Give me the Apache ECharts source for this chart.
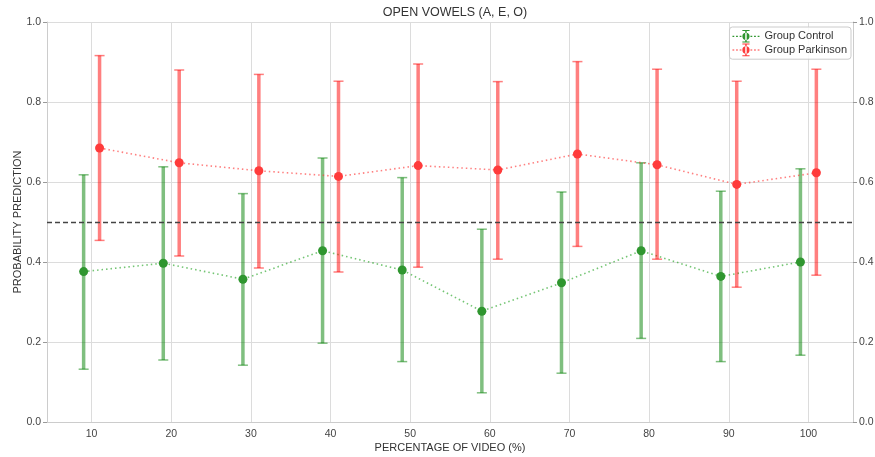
<!DOCTYPE html>
<html>
<head>
<meta charset="utf-8">
<script src="https://cdn.jsdelivr.net/npm/echarts@6/dist/echarts.min.js"></script>
<style>
  html, body { margin: 0; padding: 0; background: #fff; }
  #chart { width: 875px; height: 457px; }
</style>
</head>
<body>
<div id="chart"></div>
<script>
// Percentage of video at which the prediction is taken
const percentages = [10, 20, 30, 40, 50, 60, 70, 80, 90, 100];
const xTickLabels = [10, 20, 30, 40, 50, 60, 70, 80, 90, 100];
const yTickLabels = [0.0, 0.2, 0.4, 0.6, 0.8, 1.0];

// Group Control: mean prediction and error-bar bounds
const controlMean = [0.376, 0.397, 0.357, 0.428, 0.380, 0.277, 0.348, 0.428, 0.364, 0.400];
const controlLow  = [0.132, 0.155, 0.142, 0.197, 0.151, 0.073, 0.122, 0.209, 0.151, 0.167];
const controlHigh = [0.618, 0.638, 0.571, 0.660, 0.611, 0.482, 0.575, 0.648, 0.577, 0.633];

// Group Parkinson: mean prediction and error-bar bounds
const parkinsonMean = [0.685, 0.648, 0.628, 0.614, 0.641, 0.630, 0.670, 0.643, 0.594, 0.623];
const parkinsonLow  = [0.454, 0.415, 0.385, 0.375, 0.387, 0.407, 0.439, 0.407, 0.337, 0.367];
const parkinsonHigh = [0.916, 0.880, 0.869, 0.852, 0.895, 0.851, 0.901, 0.882, 0.852, 0.882];

// Decision threshold
const threshold = 0.5;

const chart = echarts.init(document.getElementById('chart'), null, { renderer: 'canvas' });

const GREEN = '#2f962f';
const GREEN_BAR = 'rgba(0,128,0,0.5)';
const RED = '#ff3b3b';
const RED_BAR = 'rgba(255,0,0,0.5)';
const GRID_COLOR = '#dcdcdc';
const FONT = 'Liberation Sans, Arial, sans-serif';

// Legend glyph: dotted line, error bar with caps and a round marker
const legendIcon = 'path://' +
  'M0 6.5h2v1.2h-2z M4 6.5h2v1.2h-2z M8 6.5h2v1.2h-2z M20 6.5h2v1.2h-2z M24 6.5h2v1.2h-2z M28 6.5h2v1.2h-2z ' +
  'M14.2 0h1.6v14h-1.6z M11 0h8v1.1h-8z M11 12.9h8v1.1h-8z ' +
  'M11 7a4 4 0 1 0 8 0a4 4 0 1 0 -8 0z';

function errorBarSeries(name, offset, low, high, color, z) {
  return {
    name: name,
    type: 'custom',
    z: z,
    silent: true,
    data: percentages.map((p, i) => [p + offset, low[i], high[i]]),
    encode: { x: 0, y: [1, 2] },
    renderItem: function (params, api) {
      const x = api.value(0);
      const top = api.coord([x, api.value(2)]);
      const bot = api.coord([x, api.value(1)]);
      const cap = 5;
      return {
        type: 'group',
        children: [
          { type: 'line', shape: { x1: top[0], y1: top[1], x2: bot[0], y2: bot[1] },
            style: { stroke: color, lineWidth: 3.5 } },
          { type: 'line', shape: { x1: top[0] - cap, y1: top[1], x2: top[0] + cap, y2: top[1] },
            style: { stroke: color, lineWidth: 1.5 } },
          { type: 'line', shape: { x1: bot[0] - cap, y1: bot[1], x2: bot[0] + cap, y2: bot[1] },
            style: { stroke: color, lineWidth: 1.5 } }
        ]
      };
    }
  };
}

function meanSeries(name, offset, mean, color, lineColor, z, extra) {
  return Object.assign({
    name: name,
    type: 'line',
    z: z,
    data: percentages.map((p, i) => [p + offset, mean[i]]),
    symbol: 'circle',
    symbolSize: 9,
    itemStyle: { color: color, borderWidth: 0 },
    lineStyle: { color: lineColor, width: 1.6, type: [1.5, 3] },
    color: color,
    emphasis: { disabled: true },
    animation: false
  }, extra || {});
}

const option = {
  animation: false,
  backgroundColor: '#fff',
  textStyle: { fontFamily: FONT },
  title: {
    text: 'OPEN VOWELS (A, E, O)',
    left: 450,
    top: 1,
    textAlign: 'center',
    textStyle: { fontSize: 12.5, fontWeight: 'normal', color: '#333', fontFamily: FONT }
  },
  grid: { left: 47, right: 22, top: 22, bottom: 35, containLabel: false, outerBoundsMode: 'none' },
  legend: {
    right: 24,
    top: 27,
    orient: 'vertical',
    itemWidth: 27,
    itemHeight: 13,
    itemGap: 1,
    padding: [3, 4, 3, 3],
    borderColor: '#cccccc',
    borderWidth: 1,
    borderRadius: 3,
    backgroundColor: 'rgba(255,255,255,0.85)',
    textStyle: { fontSize: 11, color: '#333', fontFamily: FONT, padding: [0, 0, 0, 0] },
    selectedMode: false,
    data: [
      { name: 'Group Control', icon: legendIcon, itemStyle: { color: GREEN } },
      { name: 'Group Parkinson', icon: legendIcon, itemStyle: { color: RED } }
    ]
  },
  xAxis: {
    type: 'value',
    min: 4.4,
    max: 105.6,
    name: 'PERCENTAGE OF VIDEO (%)',
    nameLocation: 'middle',
    nameGap: 20,
    nameMoveOverlap: false,
    nameTextStyle: { fontSize: 11, color: '#333', verticalAlign: 'top', fontFamily: FONT },
    axisLine: { show: true, lineStyle: { color: '#cccccc', width: 1 } },
    axisTick: { show: true, length: 0, customValues: xTickLabels },
    axisLabel: { customValues: xTickLabels, margin: 7, fontSize: 10.5, color: '#444', fontFamily: FONT },
    splitLine: { show: true, lineStyle: { color: GRID_COLOR, width: 1 } }
  },
  yAxis: [
    {
      type: 'value',
      min: 0,
      max: 1,
      interval: 0.2,
      position: 'left',
      name: 'PROBABILITY PREDICTION',
      nameLocation: 'middle',
      nameGap: 24,
      nameMoveOverlap: false,
      nameTextStyle: { fontSize: 11, color: '#333', fontFamily: FONT },
      axisLine: { show: true, lineStyle: { color: '#cccccc', width: 1 } },
      axisTick: { show: true, length: 4, lineStyle: { color: '#999' } },
      axisLabel: { margin: 6, fontSize: 10.5, color: '#444', fontFamily: FONT,
        formatter: v => v.toFixed(1) },
      splitLine: { show: true, lineStyle: { color: GRID_COLOR, width: 1 } }
    },
    {
      type: 'value',
      min: 0,
      max: 1,
      interval: 0.2,
      position: 'right',
      axisLine: { show: true, lineStyle: { color: '#cccccc', width: 1 } },
      axisTick: { show: true, length: 4, lineStyle: { color: '#999' } },
      axisLabel: { margin: 6, fontSize: 10.5, color: '#444', fontFamily: FONT,
        formatter: v => v.toFixed(1) },
      splitLine: { show: false }
    }
  ],
  series: [
    errorBarSeries('Group Control', -1, controlLow, controlHigh, GREEN_BAR, 2),
    meanSeries('Group Control', -1, controlMean, GREEN, 'rgba(0,150,0,0.55)', 3, {
      markLine: {
        silent: true,
        symbol: 'none',
        label: { show: false },
        lineStyle: { color: '#444', width: 1.3, type: [5, 3] },
        data: [{ yAxis: threshold }],
        animation: false
      }
    }),
    errorBarSeries('Group Parkinson', 1, parkinsonLow, parkinsonHigh, RED_BAR, 4),
    meanSeries('Group Parkinson', 1, parkinsonMean, RED, 'rgba(255,60,60,0.65)', 5)
  ]
};

chart.setOption(option);
</script>
</body>
</html>
